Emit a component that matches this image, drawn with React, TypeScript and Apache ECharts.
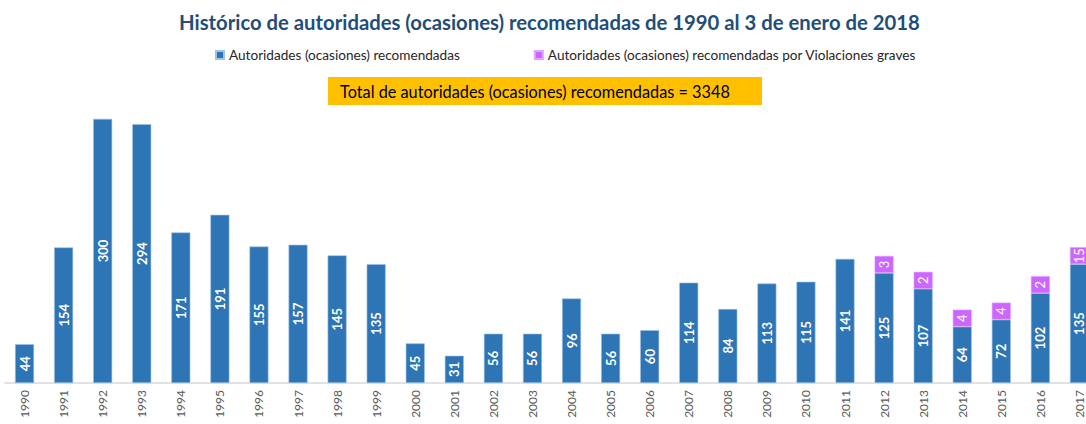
import React, { useEffect, useRef } from "react";
import * as echarts from "echarts";

const years = [
  "1990", "1991", "1992", "1993", "1994", "1995", "1996", "1997", "1998", "1999",
  "2000", "2001", "2002", "2003", "2004", "2005", "2006", "2007", "2008", "2009",
  "2010", "2011", "2012", "2013", "2014", "2015", "2016", "2017",
];
const recomendadas = [
  44, 154, 300, 294, 171, 191, 155, 157, 145, 135,
  45, 31, 56, 56, 96, 56, 60, 114, 84, 113,
  115, 141, 125, 107, 64, 72, 102, 135,
];
const violacionesGraves: (number | null)[] = [
  null, null, null, null, null, null, null, null, null, null,
  null, null, null, null, null, null, null, null, null, null,
  null, null, 3, 2, 4, 4, 2, 15,
];
const total = 3348;

const FONT = "Lato, 'Open Sans', sans-serif";

export default function App() {
  const ref = useRef<HTMLDivElement>(null);
  useEffect(() => {
    if (!ref.current) return;
    const chart = echarts.init(ref.current, null, { renderer: "svg" });
    chart.setOption({
      animation: false,
      textStyle: { fontFamily: FONT },
      title: {
        text: "Histórico de autoridades (ocasiones) recomendadas de 1990 al 3 de enero de 2018",
        left: 174,
        top: 7,
        textStyle: { fontFamily: FONT, fontSize: 20.3, fontWeight: "bold", color: "#1F4E79" },
      },
      legend: {
        top: 43,
        left: 210,
        itemWidth: 8,
        itemHeight: 8,
        itemGap: 74,
        icon: "rect",
        textStyle: { fontFamily: FONT, fontSize: 13.6, color: "#262626" },
        data: [
          "Autoridades (ocasiones) recomendadas",
          "Autoridades (ocasiones) recomendadas por Violaciones graves",
        ],
      },
      graphic: [
        {
          type: "rect",
          shape: { x: 328, y: 77, width: 434, height: 28 },
          style: { fill: "#FFC000" },
        },
        {
          type: "text",
          x: 340,
          y: 91,
          style: {
            text: `Total de autoridades (ocasiones) recomendadas = ${total}`,
            fill: "#000000",
            font: `16.3px ${FONT}`,
            verticalAlign: "middle",
          },
        },
      ],
      grid: { left: 5, right: 1, top: 103, bottom: 41 },
      xAxis: {
        type: "category",
        data: years,
        axisLine: { lineStyle: { color: "#D9D9D9", width: 1.5 } },
        axisTick: { show: false },
        axisLabel: { rotate: 90, fontSize: 12, color: "#595959", margin: 7, fontFamily: FONT },
      },
      yAxis: {
        type: "value",
        min: 0,
        max: 318,
        show: false,
        splitLine: { show: false },
      },
      series: [
        {
          name: "Autoridades (ocasiones) recomendadas",
          type: "bar",
          stack: "total",
          data: recomendadas,
          barWidth: 19,
          itemStyle: { color: "#2E75B6", borderColor: "#9DC3E6", borderWidth: 0.6 },
          label: {
            show: true,
            position: "inside",
            rotate: 90,
            color: "#FFFFFF",
            fontWeight: "bold",
            fontSize: 13,
            fontFamily: FONT,
          },
        },
        {
          name: "Autoridades (ocasiones) recomendadas por Violaciones graves",
          type: "bar",
          stack: "total",
          data: violacionesGraves,
          barWidth: 19,
          barMinHeight: 17,
          itemStyle: { color: "#CC66FF", borderColor: "#E0A3FF", borderWidth: 0.6 },
          label: {
            show: true,
            position: "inside",
            rotate: 90,
            color: "#FFFFFF",
            fontSize: 13,
            fontFamily: FONT,
          },
        },
      ],
    });
    return () => chart.dispose();
  }, []);
  return (
    <div
      style={{
        position: "absolute",
        left: 0,
        top: 0,
        width: 1086,
        height: 424,
        overflow: "hidden",
        background: "#FFFFFF",
      }}
    >
      <div ref={ref} style={{ width: 1100, height: 424 }} />
    </div>
  );
}
